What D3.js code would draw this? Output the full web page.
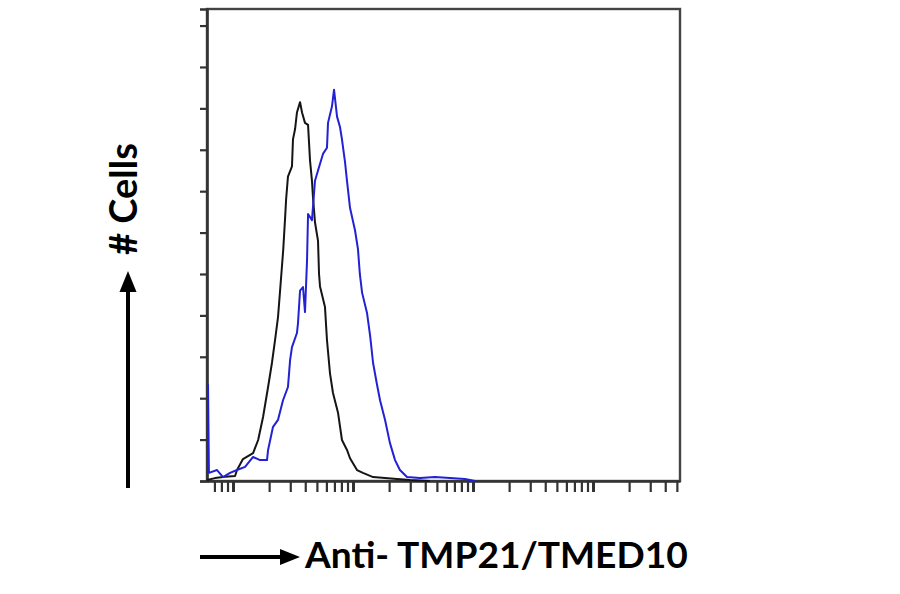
<!DOCTYPE html>
<html>
<head>
<meta charset="utf-8">
<script src="https://cdn.jsdelivr.net/npm/d3@7"></script>
<style>
  html, body { margin: 0; padding: 0; background: #fff; }
  svg { display: block; }
</style>
</head>
<body>
<svg id="chart" width="900" height="594"></svg>
<script>
// ---- Data ----
// Black histogram (control): fluorescence intensity and cell count
const blackIntensity = [0.607,0.708,0.858,1.04,1.08,1.21,1.47,1.62,1.78,1.96,2.11,2.24,2.37,2.46,2.56,2.62,2.71,2.77,2.87,3.10,3.16,3.29,3.41,3.62,3.76,3.98,4.22,4.38,4.55,4.64,4.82,5.11,5.21,5.31,5.84,6.07,6.43,6.81,7.5,8.09,8.91,9.44,10.8,12.1,14.7,18.5,23.3,29.9,43.7];
const blackCount     = [0.5,1.4,2,2.4,5.3,10.6,13.5,19.8,30.9,45.4,57,68,79,91,104,111.6,126,136,147,152,165,170,178,183,178,173,172,155,145,137,125,116,100,94,84,68,52,42.5,33,19.8,15,11,5.3,3.9,1.9,1.4,1,0.5,0];

// Blue histogram (Anti-TMP21/TMED10 stained)
const blueIntensity = [0.607,0.619,0.63,0.736,0.826,0.944,1.08,1.26,1.47,1.68,1.92,1.96,2.15,2.37,2.61,2.87,2.99,3.10,3.41,3.48,3.62,3.83,3.98,4.14,4.22,4.55,4.82,5.11,5.62,6.07,6.19,6.68,6.95,7.36,7.79,8.09,8.58,8.91,9.44,10.4,11.0,11.4,11.9,13.1,13.9,14.7,15.8,16.8,18.5,20.3,22.4,24.6,28.2,36.1,48.3,64.3,85.7,104];
const blueCount     = [46.4,46.4,3.9,5.3,1.9,3.9,5.3,6.8,11.6,10.1,10.1,15,26,29.5,39,45.4,58.4,64.7,71.5,76.3,92,93.7,81.6,106.7,129,126,145,150,158,161,173,181,189,176,171,165,154,145,132,121,112,100,91,81,70,57,47,39,29.5,18.4,10.1,5.3,1.9,1.4,1.9,1.4,1,0];

// Axis definitions
const xDomain = [0.607, 5310];
const yDomain = [0, 228];
const yTickValues = [0,20,40,60,80,100,120,140,160,180,200,220];
const xDecades = [1, 10, 100, 1000];
const xTickValues = [0.7,0.8,0.9,1,2,3,4,5,6,7,8,9,10,20,30,40,50,60,70,80,90,100,200,300,400,500,600,700,800,900,1000,2000,3000,4000,5000];

const xLabel = "Anti- TMP21/TMED10";
const yLabel = "# Cells";

// ---- Drawing ----
const svg = d3.select("#chart");
const pL = 207, pR = 680, pT = 9, pB = 481;

const x = d3.scaleLog().domain(xDomain).range([pL, pR]);
const y = d3.scaleLinear().domain(yDomain).range([pB, pT]);

// frame (top/right)
svg.append("rect")
  .attr("x", pL).attr("y", pT)
  .attr("width", pR - pL).attr("height", pB - pT)
  .attr("fill", "none").attr("stroke", "#444").attr("stroke-width", 2.4);

// y axis
const yAxis = svg.append("g").attr("transform", `translate(${pL},0)`)
  .call(d3.axisLeft(y).tickValues(yTickValues).tickSize(7).tickFormat(""));
yAxis.select(".domain").attr("stroke", "#333").attr("stroke-width", 2.6);
yAxis.selectAll(".tick line").attr("stroke", "#333").attr("stroke-width", 2.2);

// x axis
const xAxis = svg.append("g").attr("transform", `translate(0,${pB})`)
  .call(d3.axisBottom(x).tickValues(xTickValues).tickSize(11).tickSizeOuter(0).tickFormat(""));
xAxis.select(".domain").attr("stroke", "#333").attr("stroke-width", 2.6);
xAxis.selectAll(".tick line")
  .attr("stroke", "#333")
  .attr("stroke-width", d => xDecades.includes(d) ? 3 : 2.2);

// histograms (drawn over the axes)
const line = d3.line().x(d => x(d[0])).y(d => y(d[1])).curve(d3.curveLinear);
const blackData = blackIntensity.map((v, i) => [v, blackCount[i]]);
const blueData = blueIntensity.map((v, i) => [v, blueCount[i]]);

svg.append("path").datum(blackData)
  .attr("d", line).attr("fill", "none")
  .attr("stroke", "#151515").attr("stroke-width", 2).attr("stroke-linejoin", "round");
svg.append("path").datum(blueData)
  .attr("d", line).attr("fill", "none")
  .attr("stroke", "#2222d4").attr("stroke-width", 2).attr("stroke-linejoin", "round");

// y label + arrow
const arrowColor = "#000";
svg.append("line").attr("x1", 128).attr("x2", 128).attr("y1", 488).attr("y2", 290)
  .attr("stroke", arrowColor).attr("stroke-width", 4);
svg.append("path").attr("d", "M128,271 L119.5,292 L136.5,292 Z").attr("fill", arrowColor);

const yText = svg.append("text")
  .attr("transform", "translate(137,199) rotate(-90)")
  .attr("text-anchor", "middle")
  .attr("font-family", "Lato, 'Open Sans', sans-serif")
  .attr("font-weight", "bold")
  .attr("font-size", 26)
  .attr("fill", "#000")
  .text(yLabel);

// x label + arrow
svg.append("line").attr("x1", 200).attr("x2", 283).attr("y1", 557).attr("y2", 557)
  .attr("stroke", arrowColor).attr("stroke-width", 4);
svg.append("path").attr("d", "M300,557 L280,549 L280,565 Z").attr("fill", arrowColor);

const xText = svg.append("text")
  .attr("x", 305).attr("y", 568)
  .attr("font-family", "Lato, 'Open Sans', sans-serif")
  .attr("font-weight", "bold")
  .attr("font-size", 30)
  .attr("fill", "#000")
  .text(xLabel);

// fit text widths to the reference
function fit(sel, target) {
  const w = sel.node().getComputedTextLength();
  const fs = +sel.attr("font-size");
  if (w > 0) sel.attr("font-size", fs * target / w);
}
fit(xText, 383);
fit(yText, 112);
</script>
</body>
</html>
